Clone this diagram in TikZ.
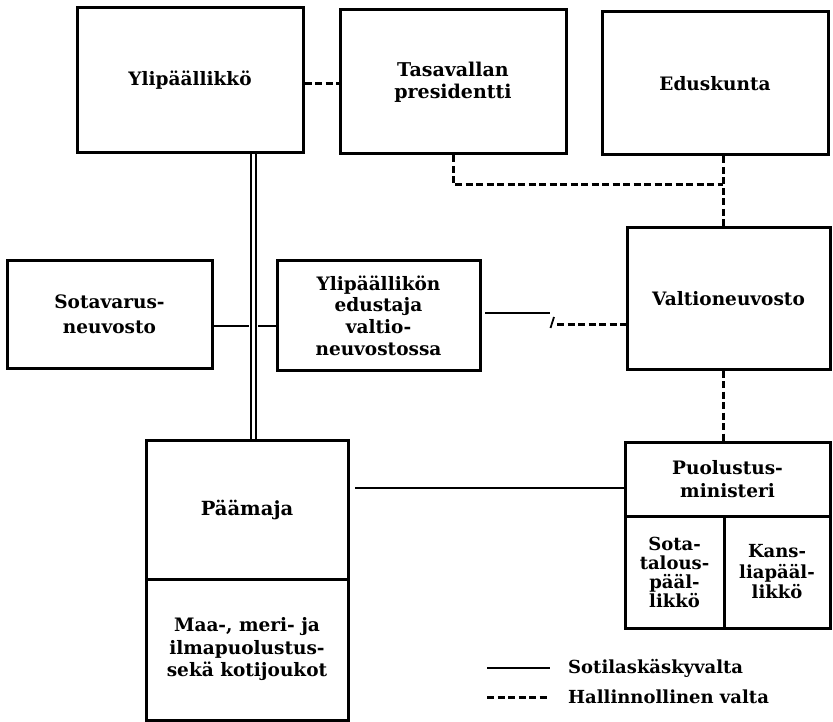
\documentclass[tikz,border=0pt]{standalone}
\usepackage{fontspec}
\setmainfont{DejaVu Serif}
\begin{document}
\begin{tikzpicture}[x=1pt,y=-1pt,
  box/.style={draw, line width=3pt, inner sep=0pt, align=center,
    font=\bfseries\fontsize{18.5}{23}\selectfont},
  cmd/.style={line width=2.4pt},
  adm/.style={line width=3pt, dash pattern=on 7pt off 3.5pt},
  dbl/.style={double, double distance=3.2pt, line width=1.8pt},
  legtext/.style={anchor=west, inner sep=0pt, font=\bfseries\fontsize{18}{22}\selectfont}]
\useasboundingbox (0,0) rectangle (833,722);

% top row
\node[box, minimum width=226pt, minimum height=145pt] (yp) at (190,80.5) {Ylipäällikkö};
\node[box, minimum width=226pt, minimum height=144pt, font=\bfseries\fontsize{19}{22}\selectfont] (tp) at (453,82) {Tasavallan\\presidentti};
\node[box, minimum width=226pt, minimum height=143pt] (ed) at (715,83.5) {Eduskunta};

% middle row
\node[box, minimum width=205pt, minimum height=107pt, font=\bfseries\fontsize{18.5}{24.5}\selectfont] (sv) at (109.5,314.5) {Sotavarus-\\neuvosto};
\node[box, minimum width=203pt, minimum height=109pt, font=\bfseries\fontsize{18.5}{21.7}\selectfont] (ye) at (378.5,315.5) {Ylipäällikön\\edustaja\\valtio-\\neuvostossa};
\node[box, minimum width=203pt, minimum height=141pt] (vn) at (728.5,298.5) {Valtioneuvosto};

% headquarters
\node[box, minimum width=202pt, minimum height=139pt, font=\bfseries\fontsize{19.5}{23}\selectfont] (pa) at (247,509.5) {Päämaja};
\node[box, minimum width=202pt, minimum height=141pt, font=\bfseries\fontsize{18.5}{22.5}\selectfont] (pb) at (247,649.5) {Maa-, meri- ja\\ilmapuolustus-\\sekä kotijoukot};

% ministry of defence
\node[box, minimum width=205pt, minimum height=74pt] (pu) at (727.5,479) {Puolustus-\\ministeri};
\node[box, minimum width=99pt, minimum height=112pt, font=\bfseries\fontsize{18}{19}\selectfont] (st) at (674.5,572) {Sota-\\talous-\\pääl-\\likkö};
\node[box, minimum width=106pt, minimum height=112pt, font=\bfseries\fontsize{18}{20.5}\selectfont] (ka) at (777,572) {Kans-\\liapääl-\\likkö};

% helper coordinates
\coordinate (dl) at (253.5,0);
\coordinate (h0) at (0,84);
\coordinate (h1) at (0,326);
\coordinate (dlL) at (249,326);
\coordinate (dlR) at (258,326);
\coordinate (j) at (723,185);
\coordinate (s0) at (485,313);
\coordinate (s1) at (550,313);
\coordinate (sl1) at (550.5,328);
\coordinate (sl2) at (554,317);
\coordinate (s2) at (557,324);
\coordinate (h2) at (355,488);

% command lines
\draw[dbl] (yp.south -| dl) -- (pa.north -| dl);
\draw[cmd] (sv.east |- h1) -- (dlL);
\draw[cmd] (dlR) -- (ye.west |- h1);
\draw[cmd] (s0) -- (s1);
\draw[line width=1.8pt] (sl1) -- (sl2);
\draw[cmd] (h2) -- (pu.west |- h2);

% administrative lines
\draw[adm] (yp.east |- h0) -- (tp.west |- h0);
\draw[adm] (tp.south) |- (j);
\draw[adm] (ed.south -| j) -- (vn.north -| j);
\draw[adm] (s2) -- (vn.west |- s2);
\draw[adm] (vn.south -| j) -- (pu.north -| j);

% legend
\coordinate (l1) at (487,668);
\coordinate (l2) at (550,668);
\coordinate (l3) at (487,697);
\coordinate (l4) at (550,697);
\draw[cmd] (l1) -- (l2);
\draw[adm] (l3) -- (l4);
\node[legtext] (lt1) at (568,668) {Sotilaskäskyvalta};
\node[legtext] (lt2) at (568,697) {Hallinnollinen valta};
\end{tikzpicture}
\end{document}
